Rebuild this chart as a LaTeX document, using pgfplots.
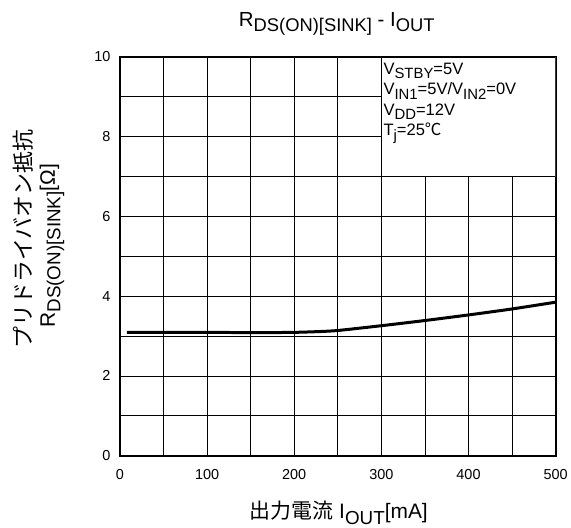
\documentclass[border=0pt]{standalone}
\usepackage{fontspec}
\setmainfont{Liberation Sans}
\newfontfamily\jp{Noto Sans CJK JP}
\usepackage{graphicx}
\usepackage{pgfplots}
\pgfplotsset{compat=1.18}
\newcommand{\sub}[1]{\raisebox{-0.26em}{\scalebox{0.9}{#1}}}
\begin{document}
\begin{tikzpicture}[x=1bp,y=1bp]
\path (0,0) rectangle (571,527);
\begin{axis}[
  at={(120bp,71bp)}, anchor=south west,
  scale only axis, width=436bp, height=399bp,
  xmin=0, xmax=500, ymin=0, ymax=10,
  xtick={0,100,...,500}, minor xtick={50,150,...,450},
  ytick={0,2,...,10}, minor ytick={1,3,...,9},
  grid=both,
  major grid style={black, line width=0.8bp},
  minor grid style={black, line width=0.8bp},
  major tick length=0pt, minor tick length=0pt,
  axis line style={black, line width=2bp},
  /pgf/number format/assume math mode=true,
  ticklabel style={font=\fontsize{14.5}{16}\selectfont},
  xticklabel style={yshift=-10bp},
  yticklabel style={xshift=-6bp},
]
\draw[black, line width=0.8bp, fill=white] (axis cs:300,7) rectangle (axis cs:500,10);
\node[anchor=north west, align=left, inner sep=0pt, font=\fontsize{16.6}{20.5}\selectfont] at ([xshift=2bp,yshift=-6bp]axis cs:300,10)
  {V\sub{STBY}=5V\\V\sub{IN1}=5V/V\sub{IN2}=0V\\V\sub{DD}=12V\\T\sub{j}=25{\jp ℃}};
\addplot[black, line width=3bp, smooth, tension=0.4] coordinates {
  (8,3.09) (100,3.09) (190,3.09) (225,3.11) (250,3.14)
  (300,3.26) (350,3.39) (400,3.53) (450,3.68) (500,3.85)
};
\end{axis}
\node[font=\fontsize{20.5}{22}\selectfont] at (337,503) {R\sub{DS(ON)[SINK]} - I\sub{OUT}};
\node[font=\fontsize{21}{22}\selectfont] at (339,14) {{\jp 出力電流} I\sub{OUT}[mA]};
\node[rotate=90, font=\fontsize{22}{24}\selectfont] at (23,288) {\jp プリドライバオン抵抗};
\node[rotate=90, font=\fontsize{21}{22}\selectfont] at (52,281) {R\sub{DS(ON)[SINK]}[Ω]};
\end{tikzpicture}
\end{document}
